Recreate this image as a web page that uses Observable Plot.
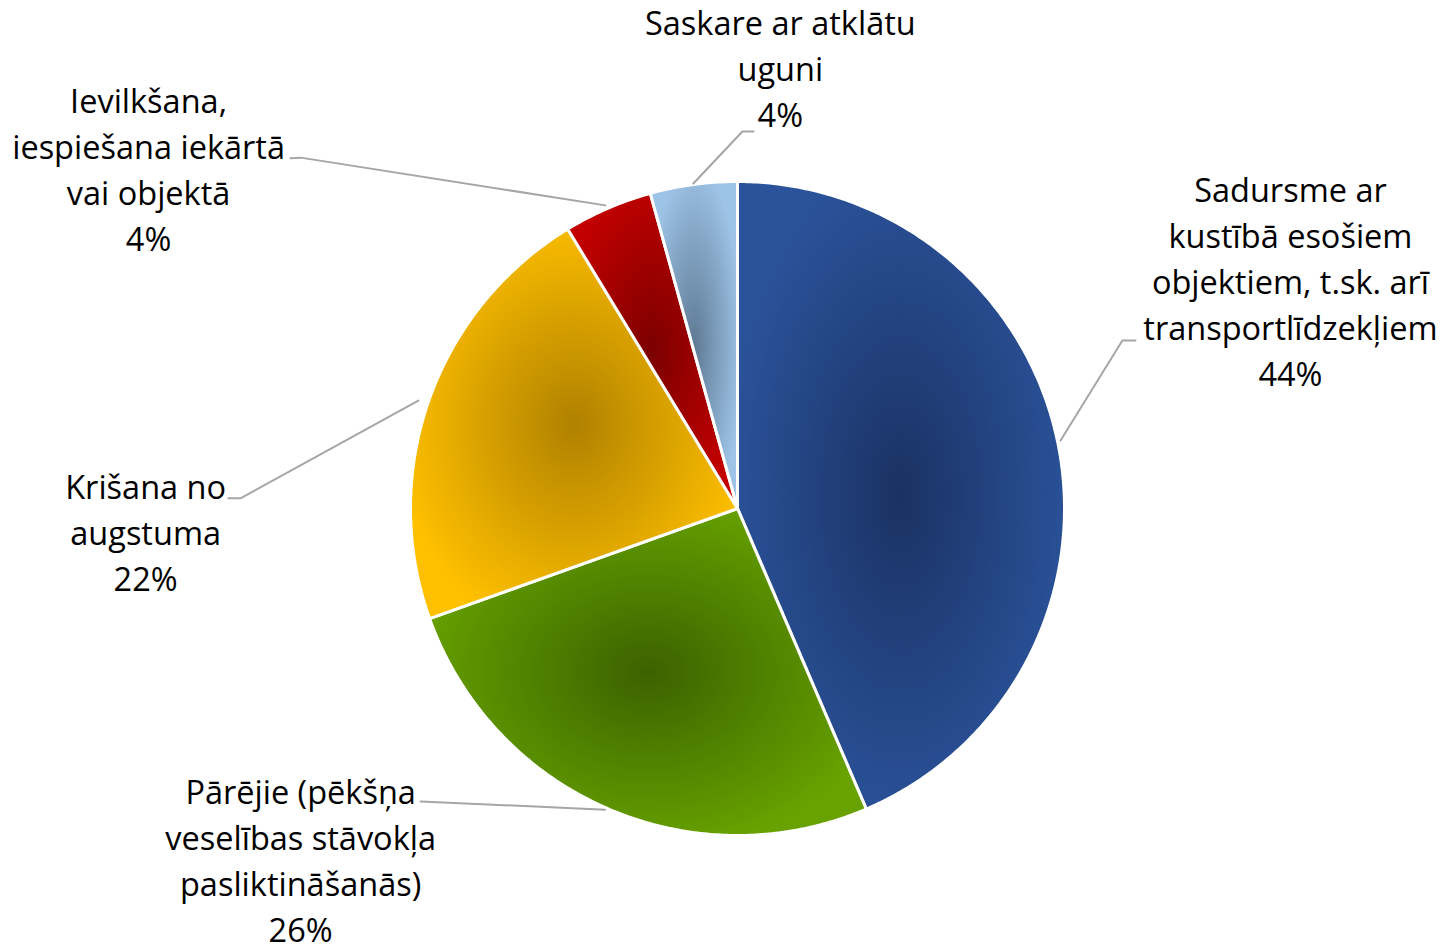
<!DOCTYPE html>
<html><head><meta charset="utf-8">
<script src="https://cdn.jsdelivr.net/npm/d3@7"></script>
<script src="https://cdn.jsdelivr.net/npm/@observablehq/plot@0.6"></script>
<style>html,body{margin:0;padding:0;background:#fff;overflow:hidden}</style>
</head><body><div id="chart"></div>
<script>
// ---- data ----
const categories = [
  "Sadursme ar kustībā esošiem objektiem, t.sk. arī transportlīdzekļiem",
  "Pārējie (pēkšņa veselības stāvokļa pasliktināšanās)",
  "Krišana no augstuma",
  "Ievilkšana, iespiešana iekārtā vai objektā",
  "Saskare ar atklātu uguni"
];
// shares (%); labels show them rounded
const shares = [43.6, 26.0, 21.8, 4.4, 4.3];
const labelLines = [
  ["Sadursme ar", "kustībā esošiem", "objektiem, t.sk. arī", "transportlīdzekļiem"],
  ["Pārējie (pēkšņa", "veselības stāvokļa", "pasliktināšanās)"],
  ["Krišana no", "augstuma"],
  ["Ievilkšana,", "iespiešana iekārtā", "vai objektā"],
  ["Saskare ar atklātu", "uguni"]
];
const edgeColors = ["#2b539b", "#67a200", "#ffc000", "#c20000", "#9dc3e6"];
const centerColors = ["#1a3263", "#3b6200", "#b08100", "#7c0000", "#5e7a94"];

// ---- layout (unit = pie radius, origin = pie centre) ----
const W = 1450, H = 947, CX = 737, CY = 508, R = 327;
const labelPos = [[1.691, 0.700], [-1.336, -1.070], [-1.810, -0.068], [-1.801, 1.043], [0.131, 1.353]];
const leaders = [
  [[0.988, 0.208], [1.177, 0.514], [1.217, 0.514]],
  [[-0.405, -0.921], [-0.969, -0.896]],
  [[-0.976, 0.330], [-1.520, 0.031], [-1.557, 0.031]],
  [[-0.404, 0.927], [-1.336, 1.073], [-1.367, 1.071]],
  [[-0.135, 0.994], [0.015, 1.153], [0.049, 1.153]]
];

// ---- build ----
const total = d3.sum(shares);
const arcs = d3.pie().sort(null).startAngle(0).endAngle(2 * Math.PI)(shares);
const slices = arcs.map((a, i) => {
  const n = Math.max(8, Math.ceil((a.endAngle - a.startAngle) / 0.01));
  const pts = [{i, u: 0, v: 0}];
  for (let k = 0; k <= n; k++) {
    const t = a.startAngle + (a.endAngle - a.startAngle) * k / n;
    pts.push({i, u: Math.sin(t), v: Math.cos(t)});
  }
  return pts;
});
const labels = categories.map((c, i) => ({
  u: labelPos[i][0], v: labelPos[i][1],
  text: [...labelLines[i], Math.round(100 * shares[i] / total) + "%"].join("\n")
}));
const leaderPts = leaders.flatMap((pts, i) => pts.map(([u, v]) => ({i, u, v})));

const FS = 32.5;
const plot = Plot.plot({
  width: W, height: H,
  margin: 0,
  x: {domain: [-CX / R, (W - CX) / R], axis: null},
  y: {domain: [(CY - H) / R, CY / R], axis: null},
  style: {fontFamily: "'Open Sans', sans-serif", background: "#fff"},
  marks: [
    ...slices.map((pts, i) => Plot.line(pts, {
      x: "u", y: "v", curve: "linear-closed",
      fill: `url(#sliceGrad${i})`, stroke: "#fff", strokeWidth: 3, strokeLinejoin: "round"
    })),
    Plot.line(leaderPts, {x: "u", y: "v", z: "i", stroke: "#a6a6a6", strokeWidth: 2}),
    Plot.text(labels, {
      x: "u", y: "v", text: "text", fontSize: FS, lineHeight: 46 / FS,
      fill: "#000", textAnchor: "middle"
    })
  ]
});

// radial gradients, one per slice, centred on each slice's bounding box
const svg = d3.select(plot);
const defs = svg.insert("defs", ":first-child");
edgeColors.forEach((c, i) => {
  const g = defs.append("radialGradient").attr("id", `sliceGrad${i}`)
    .attr("cx", 0.5).attr("cy", 0.5).attr("r", 0.55);
  g.append("stop").attr("offset", 0).attr("stop-color", centerColors[i]);
  g.append("stop").attr("offset", 1).attr("stop-color", c);
});
document.getElementById("chart").appendChild(plot);
</script>
</body></html>
